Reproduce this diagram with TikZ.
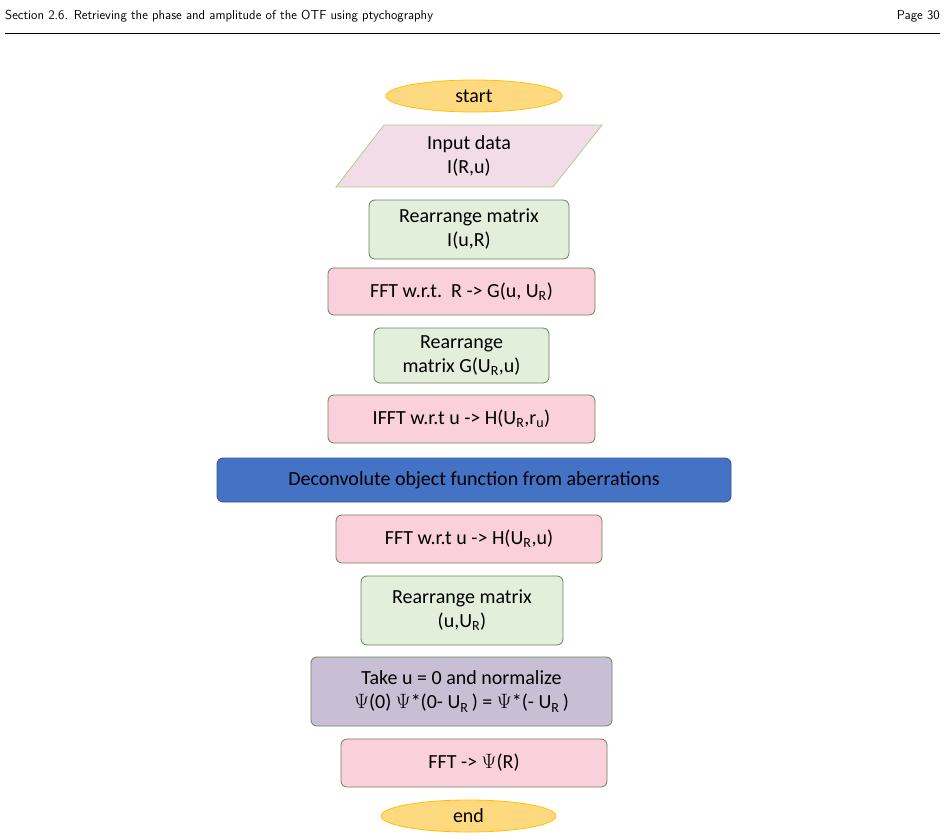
\documentclass[tikz,border=0pt]{standalone}
\usepackage{fontspec}
\newfontfamily\carl{Carlito}
\usetikzlibrary{shapes.geometric}
\definecolor{pinkf}{HTML}{F9D0DC}
\definecolor{greenf}{HTML}{E2EFDA}
\definecolor{boxd}{HTML}{6F7F5F}
\definecolor{ellf}{HTML}{FFD97F}
\definecolor{elld}{HTML}{FFC000}
\definecolor{parf}{HTML}{F2DCE8}
\definecolor{pard}{HTML}{A9D18E}
\definecolor{bluef}{HTML}{4472C4}
\definecolor{bluedk}{HTML}{2F5597}
\definecolor{lavf}{HTML}{C9BFD4}
\begin{document}
\begin{tikzpicture}[x=1pt,y=-1pt,
  every node/.style={font=\carl\fontsize{20}{24}\selectfont, align=center, inner sep=0},
  box/.style={rectangle, rounded corners=6pt, draw=boxd, line width=0.8pt},
  pinkb/.style={box, fill=pinkf},
  greenb/.style={box, fill=greenf},
  ell/.style={ellipse, fill=ellf, draw=elld, line width=0.8pt}]
\useasboundingbox (0,0) rectangle (948,840);
\node[font=\sffamily\fontsize{13}{15}\selectfont, anchor=west] (hl) at (5,16) {Section 2.6. Retrieving the phase and amplitude of the OTF using ptychography};
\node[font=\sffamily\fontsize{13}{15}\selectfont, anchor=east] (hr) at (940,16) {Page 30};
\draw[line width=0.5pt] (5,33) -- (940,33);
\node[ell, minimum width=176, minimum height=32] (start) at (474,96) {start};
\coordinate (p1) at (384,125); \coordinate (p2) at (602,125);
\coordinate (p3) at (553,187); \coordinate (p4) at (336,187);
\draw[fill=parf, draw=pard, line width=0.8pt] (p1) -- (p2) -- (p3) -- (p4) -- cycle;
\node (in) at (469,156) {Input data\\I(R,u)};
\node[greenb, minimum width=200, minimum height=59] (r1) at (469,229.5) {Rearrange matrix\\I(u,R)};
\node[pinkb, minimum width=267, minimum height=47] (f1) at (461.5,291.5) {FFT w.r.t.\ \ R -> G(u, U\textsubscript{R})};
\node[greenb, minimum width=175, minimum height=55] (r2) at (461.5,355.5) {Rearrange\\matrix G(U\textsubscript{R},u)};
\node[pinkb, minimum width=267, minimum height=48] (i1) at (461.5,419) {IFFT w.r.t u -> H(U\textsubscript{R},r\textsubscript{u})};
\node[box, fill=bluef, draw=bluedk, minimum width=514, minimum height=44] (dc) at (474,480) {Deconvolute object function from aberrations};
\node[pinkb, minimum width=266, minimum height=48] (f2) at (469,539) {FFT w.r.t u -> H(U\textsubscript{R},u)};
\node[greenb, minimum width=202, minimum height=69] (r3) at (462,610.5) {Rearrange matrix\\(u,U\textsubscript{R})};
\node[box, fill=lavf, minimum width=301, minimum height=69] (tk) at (461.5,691.5) {Take u = 0 and normalize\\$\Psi$(0) $\Psi$*(0- U\textsubscript{R}\,) = $\Psi$*(- U\textsubscript{R}\,)};
\node[pinkb, minimum width=266, minimum height=48] (f3) at (474,763) {FFT -> $\Psi$(R)};
\node[ell, minimum width=175, minimum height=32] (end) at (468.5,816) {end};
\end{tikzpicture}
\end{document}
